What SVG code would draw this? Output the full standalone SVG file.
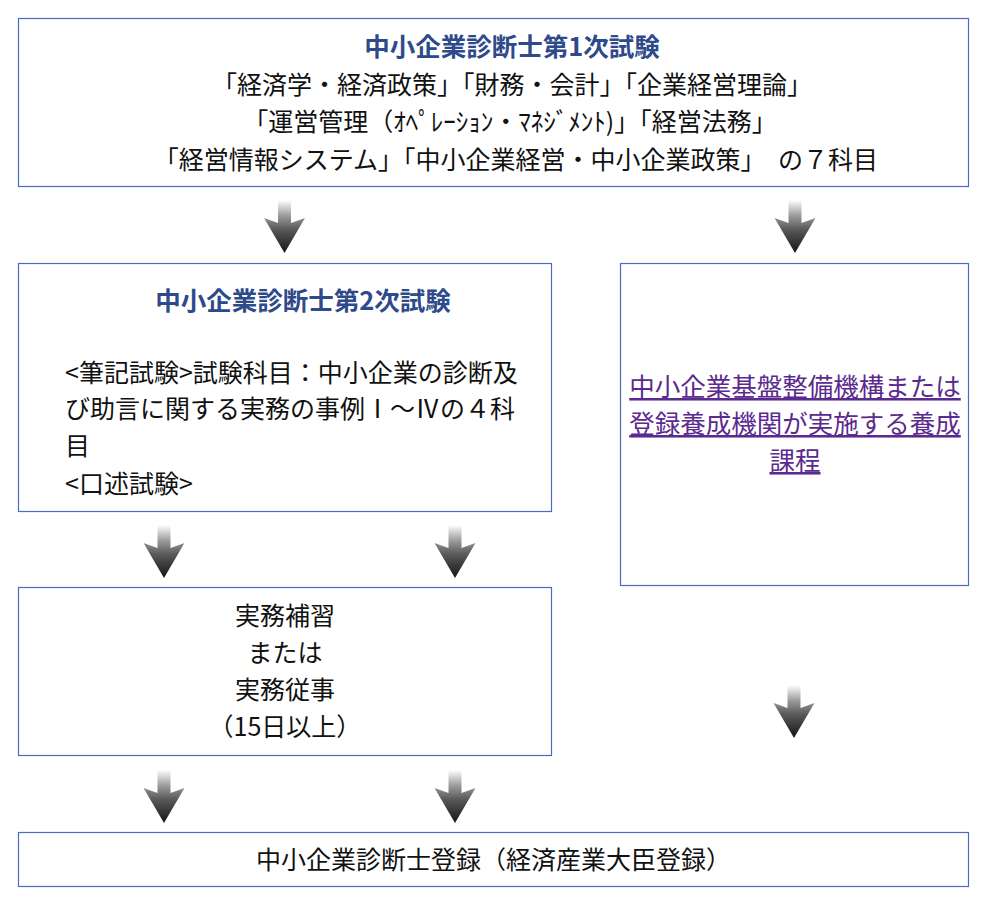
<svg xmlns="http://www.w3.org/2000/svg" width="996" height="897" viewBox="0 0 996 897">
<defs>
<style>
.box{fill:#fff;stroke:#4a6bc4;stroke-width:1.2}
.t{font-family:"Noto Sans CJK JP","Noto Sans",sans-serif;font-size:25px;fill:#111}
.c{text-anchor:middle}
.h{font-weight:bold;fill:#2e4a8b;font-size:25.5px}
.lk{fill:#5b2a8e;text-decoration:underline;font-size:25.5px}
</style>
<linearGradient id="g" x1="0" y1="0" x2="0" y2="1">
<stop offset="0" stop-color="#ffffff"/>
<stop offset="0.3" stop-color="#9a9a9a"/>
<stop offset="0.55" stop-color="#5a5a5a"/>
<stop offset="1" stop-color="#151515"/>
</linearGradient>
<path id="arr" d="M-6.5 0 L6.5 0 L6.5 23 L20.5 18 L0 53 L-20.5 18 L-6.5 23 Z" fill="url(#g)"/>
</defs>
<rect width="996" height="897" fill="#fff"/>
<g id="connectors">
<use href="#arr" x="284.5" y="200"/>
<use href="#arr" x="795" y="200"/>
<use href="#arr" x="164" y="525"/>
<use href="#arr" x="455" y="525"/>
<use href="#arr" x="794" y="685"/>
<use href="#arr" x="164" y="770"/>
<use href="#arr" x="455" y="770"/>
</g>
<g id="exam1">
<rect class="box" x="18.5" y="18.5" width="950" height="168"/>
<text class="t c h" x="512" y="56">中小企業診断士第1次試験</text>
<text class="t c" x="512" y="94">「経済学・経済政策」「財務・会計」「企業経営理論」</text>
<text class="t c" x="510" y="131">「運営管理（ｵﾍﾟﾚｰｼｮﾝ・ﾏﾈｼﾞﾒﾝﾄ)」「経営法務」</text>
<text class="t c" x="516" y="169">「経営情報システム」「中小企業経営・中小企業政策」　の７科目</text>
</g>
<g id="exam2">
<rect class="box" x="18.5" y="263.5" width="533" height="248"/>
<text class="t c h" x="303" y="310">中小企業診断士第2次試験</text>
<text class="t" x="65" y="382">&lt;筆記試験&gt;試験科目：中小企業の診断及</text>
<text class="t" x="65" y="418">び助言に関する実務の事例Ⅰ～Ⅳの４科</text>
<text class="t" x="65" y="455">目</text>
<text class="t" x="65" y="493">&lt;口述試験&gt;</text>
</g>
<g id="course">
<rect class="box" x="620.5" y="263.5" width="348" height="322"/>
<text class="t c lk" x="795" y="396">中小企業基盤整備機構または</text>
<text class="t c lk" x="795" y="433">登録養成機関が実施する養成</text>
<text class="t c lk" x="795" y="470">課程</text>
</g>
<g id="practice">
<rect class="box" x="18.5" y="587.5" width="533" height="168"/>
<text class="t c" x="285" y="625">実務補習</text>
<text class="t c" x="285" y="662">または</text>
<text class="t c" x="285" y="699">実務従事</text>
<text class="t c" x="285" y="736">（15日以上）</text>
</g>
<g id="register">
<rect class="box" x="18.5" y="832.5" width="950" height="54"/>
<text class="t c" x="493.5" y="869">中小企業診断士登録（経済産業大臣登録）</text>
</g>
</svg>
